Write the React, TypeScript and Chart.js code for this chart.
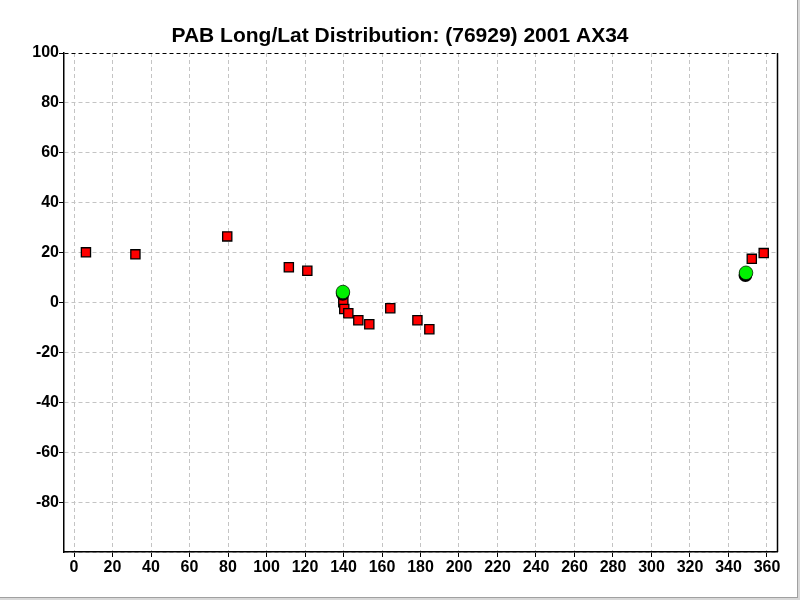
import React, { useEffect, useRef } from "react";
import { Chart, registerables } from "chart.js";

Chart.register(...registerables);

const titleText = "PAB Long/Lat Distribution: (76929) 2001 AX34";

const squareLon = [6.2, 31.9, 79.6, 111.6, 121.2, 139.9, 140.4, 142.5, 147.7, 153.4, 164.3, 178.4, 184.6, 352.1, 358.3];
const squareLat = [20.1, 19.3, 26.5, 14.1, 12.7, 0.1, -2.6, -4.3, -7.1, -8.7, -2.3, -7.1, -10.7, 17.5, 19.8];

const shadowLon = [139.6, 348.8];
const shadowLat = [3.5, 11.0];

const greenLon = [139.7, 349.1];
const greenLat = [4.2, 11.9];

const xTicks = [0, 20, 40, 60, 80, 100, 120, 140, 160, 180, 200, 220, 240, 260, 280, 300, 320, 340, 360];
const yTicks = [-100, -80, -60, -40, -20, 0, 20, 40, 60, 80, 100];

const toPoints = (xs: number[], ys: number[]) => xs.map((x, i) => ({ x, y: ys[i] }));

const framePlugin = {
  id: "frame",
  beforeDraw(chart: any) {
    const ctx = chart.ctx;
    ctx.save();
    ctx.fillStyle = "#ffffff";
    ctx.fillRect(0, 0, chart.width, chart.height);
    ctx.restore();
  },
  afterDraw(chart: any) {
    const ctx = chart.ctx;
    const a = chart.chartArea;
    ctx.save();
    ctx.strokeStyle = "#000000";
    ctx.lineWidth = 1.5;
    ctx.beginPath();
    ctx.moveTo(Math.round(a.right) + 0.5, a.top);
    ctx.lineTo(Math.round(a.right) + 0.5, a.bottom);
    ctx.stroke();
    ctx.fillStyle = "#000000";
    ctx.font = "bold 21px 'Liberation Sans', Arial, sans-serif";
    ctx.textAlign = "center";
    ctx.textBaseline = "alphabetic";
    ctx.fillText(titleText, 400, 42);
    ctx.fillStyle = "#a0a0a0";
    ctx.fillRect(797, 0, 1, 598);
    ctx.fillRect(0, 597, 798, 1);
    ctx.fillStyle = "#d8d8d8";
    ctx.fillRect(798, 0, 2, 600);
    ctx.fillRect(0, 598, 800, 2);
    ctx.restore();
  },
};

export default function App() {
  const ref = useRef<HTMLCanvasElement | null>(null);

  useEffect(() => {
    if (!ref.current) return;
    const tickFont = { family: "'Liberation Sans', Arial, sans-serif", size: 16, weight: "bold" as const };
    const chart = new Chart(ref.current, {
      type: "scatter",
      data: {
        datasets: [
          {
            data: toPoints(squareLon, squareLat),
            order: 3,
            pointStyle: "rect",
            pointRadius: 6.5,
            backgroundColor: "#ff0000",
            borderColor: "#000000",
            borderWidth: 1.3,
          },
          {
            data: toPoints(shadowLon, shadowLat),
            order: 2,
            pointStyle: "circle",
            pointRadius: 6.9,
            backgroundColor: "#000000",
            borderColor: "#000000",
            borderWidth: 0,
          },
          {
            data: toPoints(greenLon, greenLat),
            order: 1,
            pointStyle: "circle",
            pointRadius: 6.8,
            backgroundColor: "#00f000",
            borderColor: "#002200",
            borderWidth: 0.8,
          },
        ],
      },
      options: {
        responsive: false,
        animation: false,
        devicePixelRatio: 1,
        layout: { padding: { top: 53, left: 0, right: 23, bottom: 0 } },
        plugins: {
          legend: { display: false },
          title: { display: false },
          tooltip: { enabled: false },
        },
        scales: {
          x: {
            type: "linear",
            min: -5.2,
            max: 365.2,
            afterBuildTicks: (scale: any) => {
              scale.ticks = xTicks.map((v) => ({ value: v }));
            },
            afterFit: (scale: any) => {
              scale.height = 48;
            },
            grid: {
              color: "#c4c4c4",
              lineWidth: 1,
              tickColor: "#000000",
              tickLength: 5,
              tickBorderDash: [],
            },
            border: { display: true, color: "#000000", width: 1.5, dash: [4, 3] },
            ticks: {
              color: "#000000",
              font: tickFont,
              padding: 1,
              maxRotation: 0,
              autoSkip: false,
              callback: (v: any) => String(v),
            },
          },
          y: {
            type: "linear",
            min: -100,
            max: 100,
            afterBuildTicks: (scale: any) => {
              scale.ticks = yTicks.map((v) => ({ value: v }));
            },
            afterFit: (scale: any) => {
              scale.width = 64;
            },
            grid: {
              color: (c: any) => (c.tick && c.tick.value === 100 ? "#000000" : "#c4c4c4"),
              lineWidth: 1,
              tickColor: (c: any) => (c.tick && c.tick.value === -100 ? "rgba(0,0,0,0)" : "#000000"),
              tickLength: 5,
              tickBorderDash: [],
            },
            border: { display: true, color: "#000000", width: 1.5, dash: [4, 3] },
            ticks: {
              color: "#000000",
              font: tickFont,
              padding: 0,
              autoSkip: false,
              callback: (v: any) => (v === -100 ? "" : String(v)),
            },
          },
        },
      },
      plugins: [framePlugin],
    });
    return () => chart.destroy();
  }, []);

  return (
    <div style={{ position: "absolute", left: 0, top: 0, width: 800, height: 600, background: "#ffffff" }}>
      <canvas ref={ref} width={800} height={600} style={{ display: "block" }} />
    </div>
  );
}
